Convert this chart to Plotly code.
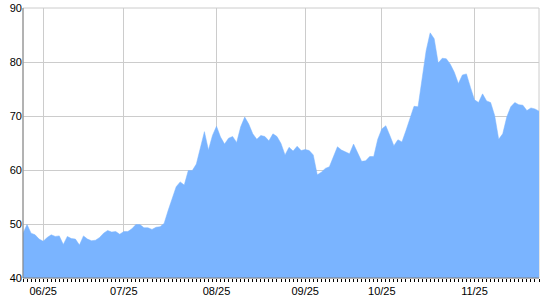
import plotly.graph_objects as go

values = [
    48.3, 49.9, 48.3, 48.0, 47.2, 46.8, 47.5, 48.0, 47.7, 47.8,
    46.2, 47.7, 47.3, 47.2, 46.1, 47.8, 47.2, 46.9, 47.0, 47.5,
    48.3, 48.8, 48.5, 48.6, 48.1, 48.6, 48.6, 49.1, 49.9, 49.9,
    49.3, 49.3, 49.0, 49.4, 49.5, 50.1, 52.5, 54.6, 56.9, 57.8,
    57.2, 59.9, 59.9, 61.1, 63.9, 67.1, 63.7, 66.4, 68.1, 66.1,
    64.8, 65.9, 66.2, 65.1, 68.0, 69.8, 68.5, 66.7, 65.7, 66.4,
    66.2, 65.4, 66.7, 66.2, 64.9, 62.8, 64.2, 63.5, 64.4, 63.6,
    63.8, 63.6, 62.8, 59.1, 59.6, 60.3, 60.6, 62.5, 64.3, 63.7,
    63.4, 63.0, 64.8, 63.3, 61.6, 61.7, 62.5, 62.5, 65.7, 67.6,
    68.2, 66.4, 64.5, 65.6, 65.2, 67.3, 69.4, 71.8, 71.7, 76.9,
    82.1, 85.4, 84.3, 79.8, 80.7, 80.6, 79.6, 78.1, 76.0, 77.6,
    77.8, 75.3, 73.0, 72.5, 74.1, 72.8, 72.5, 70.1, 65.7, 66.7,
    69.8, 71.7, 72.5, 72.1, 72.0, 71.0, 71.5, 71.3, 70.9,
]
day_index = list(range(len(values)))

month_labels = ["06/25", "07/25", "08/25", "09/25", "10/25", "11/25"]
month_start_index = [5, 25, 48, 70, 89, 112]

y_ticks = [40, 50, 60, 70, 80, 90]

fill_color = "#7ab4ff"
grid_color = "#cccccc"
axis_color = "#808080"

fig = go.Figure()
fig.add_trace(go.Scatter(
    x=day_index, y=values, mode="lines",
    line=dict(color=fill_color, width=0.5),
    fill="tozeroy", fillcolor=fill_color,
    hoverinfo="skip", showlegend=False,
))

fig.update_layout(
    width=540, height=300,
    margin=dict(l=23, r=1, t=8, b=22),
    paper_bgcolor="white", plot_bgcolor="white",
    font=dict(family="Liberation Sans, Arial, sans-serif", size=11, color="black"),
    shapes=[
        dict(type="rect", xref="paper", yref="paper", x0=0, x1=1, y0=0, y1=1,
             line=dict(color=grid_color, width=1), layer="below"),
        dict(type="line", xref="paper", yref="paper", x0=0, x1=0, y0=0, y1=1,
             line=dict(color=axis_color, width=1), layer="above"),
        dict(type="line", xref="paper", yref="paper", x0=0, x1=1, y0=0, y1=0,
             line=dict(color=axis_color, width=1), layer="above"),
    ],
)
fig.update_xaxes(
    range=[0, len(values) - 1],
    tickmode="array", tickvals=month_start_index, ticktext=month_labels,
    showgrid=True, gridcolor=grid_color, gridwidth=1,
    ticks="outside", ticklen=3, tickcolor="black", tickwidth=1,
    showline=False,
    zeroline=False,
    minor=dict(tickmode="linear", tick0=0, dtick=1, ticks="outside", ticklen=3,
               tickcolor="black", tickwidth=1, showgrid=False),
)
fig.update_yaxes(
    range=[40, 90],
    tickmode="array", tickvals=y_ticks,
    showgrid=True, gridcolor=grid_color, gridwidth=1,
    ticks="", ticklen=0,
    showline=False,
    zeroline=False,
)

fig.write_html("out.html")
